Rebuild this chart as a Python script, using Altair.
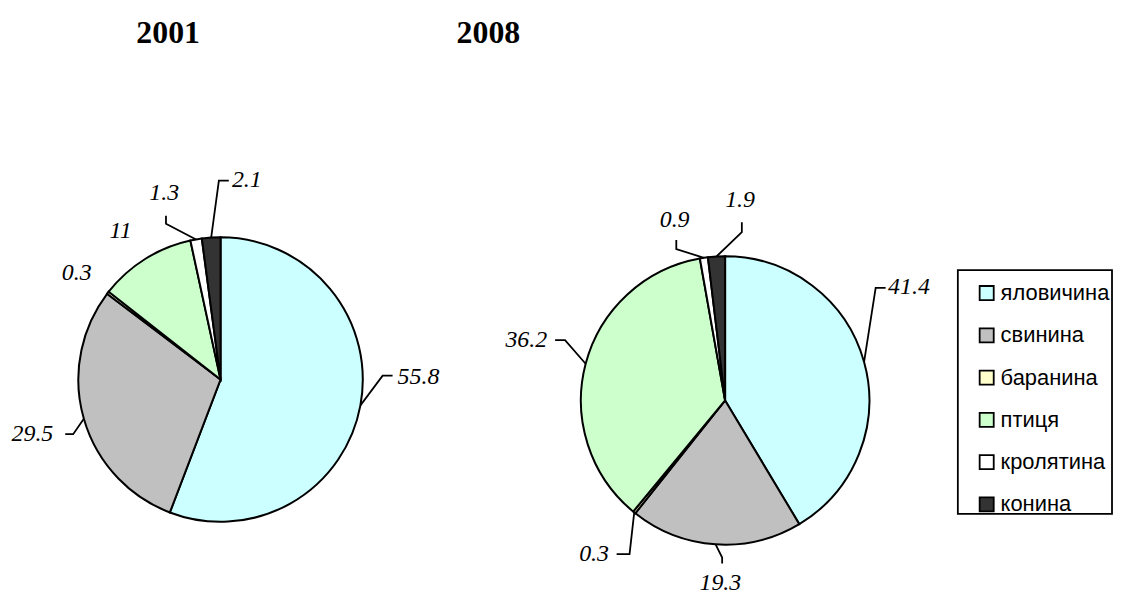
import altair as alt
import pandas as pd
import numpy as np

# ---------------- data ----------------
years = ["2001", "2008"]
categories = ["яловичина", "свинина", "баранина", "птиця", "кролятина", "конина"]
values_2001 = [55.8, 29.5, 0.3, 11, 1.3, 2.1]
values_2008 = [41.4, 19.3, 0.3, 36.2, 0.9, 1.9]
colors = ["#CCFFFF", "#C0C0C0", "#FFFFCC", "#CCFFCC", "#FFFFFF", "#333333"]

# ---------------- layout ----------------
W, H = 1111, 586
centers = {"2001": (213.7, 372.0), "2008": (721.0, 393.0)}
radii = {"2001": 143, "2008": 145}
title_pos = {"2001": (161, 34), "2008": (483, 34)}
# label placement: angular shift (deg) from slice middle, radius (px)
label_shift = {"2001": [-11.3, -0.2, -1.1, -1.9, -6.9, 11.3],
               "2008": [-16.1, -2.3, 1.4, 2.2, -7.2, 7.7]}
label_radius = {"2001": [199, 197, 180, 180, 196, 202],
                "2008": [217, 184, 203, 209, 188, 202]}
# leader lines: elbow shift (deg), elbow radius, end tick (dx, dy)
elbow_shift = {"2001": [-11.8, -4.3, None, None, -9.4, 3.3],
               "2008": [-21.3, -2.7, -7.2, 5.9, -9.4, 9.1]}
elbow_radius = {"2001": [163, 158, None, None, 166, 200],
                "2008": [189, 158, 182, 172, 160, 170]}
ticks = {"2001": [(10, 0), (-8, 0), None, None, (0, -8), (10, 0)],
         "2008": [(10, 0), (0, 6), (-13, 0), (-10, 0), (0, -9), (0, -10)]}
legend_box = (955, 262, 1110, 507)

series = {"2001": values_2001, "2008": values_2008}

rows, lead_rows = [], []
for y in years:
    vals = series[y]
    cx, cy = centers[y]
    r = radii[y]
    cum = 0.0
    for i, (cat, v) in enumerate(zip(categories, vals)):
        mid = cum + v / 2.0
        cum += v
        lab_t = (mid + label_shift[y][i] / 3.6) % 100
        rows.append({"year": y, "cat": cat, "idx": i, "value": v,
                     "label": f"{v:g}", "lab_t": lab_t, "lab_r": label_radius[y][i]})
        if elbow_shift[y][i] is not None:
            a0 = 2 * np.pi * mid / 100
            a1 = a0 + np.deg2rad(elbow_shift[y][i])
            er = elbow_radius[y][i]
            p0 = (cx + r * np.sin(a0), cy - r * np.cos(a0))
            p1 = (cx + er * np.sin(a1), cy - er * np.cos(a1))
            dx, dy = ticks[y][i]
            p2 = (p1[0] + dx, p1[1] + dy)
            for k, p in enumerate([p0, p1, p2]):
                lead_rows.append({"key": f"{y}-{i}", "k": k, "px": p[0], "py": p[1]})

df = pd.DataFrame(rows)
leads = pd.DataFrame(lead_rows)

theta_scale = alt.Scale(domain=[0, 100], range=[0, 2 * np.pi])
color_enc = alt.Color(
    "cat:N",
    sort=categories,
    scale=alt.Scale(domain=categories, range=colors),
    legend=alt.Legend(
        title=None, orient="none", legendX=973, legendY=274, direction="vertical",
        symbolType="square", symbolSize=200, symbolStrokeColor="black",
        symbolStrokeWidth=1.8, labelFont="Liberation Sans", labelFontSize=22,
        labelColor="black", rowPadding=20.5, padding=0,
        labelLimit=400, labelOffset=3,
    ),
)

layers = []
for y in years:
    cx, cy = centers[y]
    base = alt.Chart(df).transform_filter(alt.datum.year == y)
    pie = base.mark_arc(radius=radii[y], stroke="black", strokeWidth=2).encode(
        theta=alt.Theta("value:Q", stack=True, scale=theta_scale),
        order=alt.Order("idx:Q"),
        color=color_enc,
        x=alt.value(cx), y=alt.value(cy),
    )
    txt = base.mark_text(font="Liberation Serif", fontStyle="italic", fontSize=24,
                         align="center", baseline="middle", color="black").encode(
        theta=alt.Theta("lab_t:Q", stack=None, scale=theta_scale),
        radius=alt.Radius("lab_r:Q", scale=None),
        text="label:N",
        x=alt.value(cx), y=alt.value(cy),
    )
    tx, ty = title_pos[y]
    title = alt.Chart(pd.DataFrame({"t": [y]})).mark_text(
        font="Liberation Serif", fontWeight="bold", fontSize=32,
        align="center", baseline="alphabetic", color="black").encode(
        text="t:N", x=alt.value(tx), y=alt.value(ty))
    layers += [pie, txt, title]

lines = alt.Chart(leads).mark_line(color="black", strokeWidth=1.8).encode(
    x=alt.X("px:Q", scale=None),
    y=alt.Y("py:Q", scale=None),
    detail="key:N",
    order="k:Q",
)
layers.append(lines)

bx0, by0, bx1, by1 = legend_box
box = alt.Chart(pd.DataFrame({"b": [0]})).mark_rect(
    fill=None, stroke="black", strokeWidth=1.8).encode(
    x=alt.value(bx0), x2=alt.value(bx1), y=alt.value(by0), y2=alt.value(by1))
layers.append(box)

chart = alt.layer(*layers).properties(
    width=W, height=H, padding=0, autosize=alt.AutoSizeParams(type="none")
).configure_view(stroke=None)

chart.save("out.html", embed_options={"renderer": "svg", "actions": False})
